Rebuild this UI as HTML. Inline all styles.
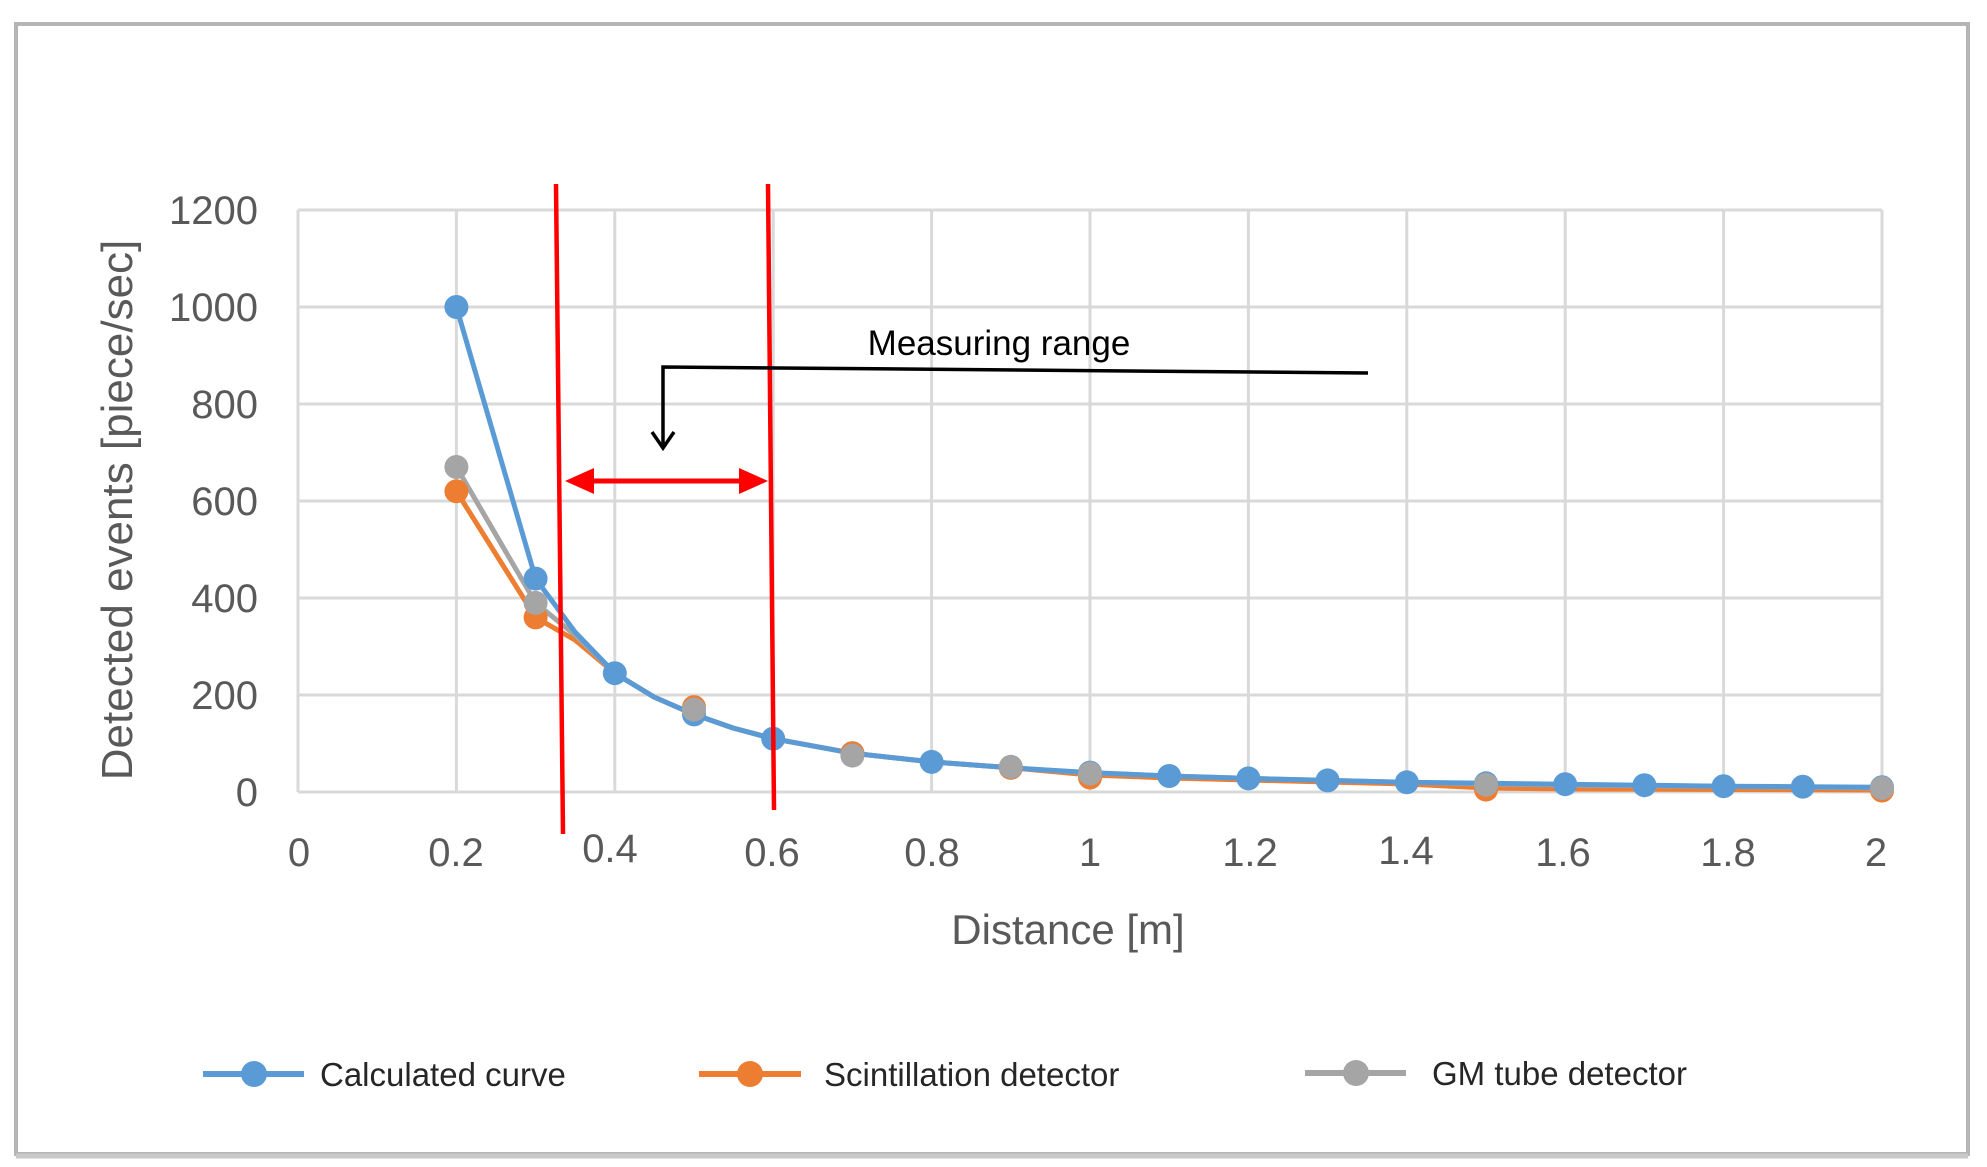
<!DOCTYPE html>
<html><head><meta charset="utf-8"><style>
html,body{margin:0;padding:0;background:#fff;}
svg{display:block;}
text{font-family:"Liberation Sans",sans-serif;}
</style></head><body>
<svg width="1987" height="1167" viewBox="0 0 1987 1167" xmlns="http://www.w3.org/2000/svg">
<rect x="0" y="0" width="1987" height="1167" fill="#fff"/>
<rect x="16" y="24" width="1952" height="1130" fill="#fff" stroke="#b5b5b5" stroke-width="4"/>
<line x1="16" y1="1156" x2="1968" y2="1156" stroke="#c8c8c8" stroke-width="5"/>
<g stroke="#d9d9d9" stroke-width="3" fill="none">
<line x1="298" y1="210" x2="1882" y2="210"/>
<line x1="298" y1="307" x2="1882" y2="307"/>
<line x1="298" y1="404" x2="1882" y2="404"/>
<line x1="298" y1="501" x2="1882" y2="501"/>
<line x1="298" y1="598" x2="1882" y2="598"/>
<line x1="298" y1="695" x2="1882" y2="695"/>
<line x1="298" y1="792" x2="1882" y2="792"/>
<line x1="298" y1="210" x2="298" y2="792"/>
<line x1="456.4" y1="210" x2="456.4" y2="792"/>
<line x1="614.8" y1="210" x2="614.8" y2="792"/>
<line x1="773.2" y1="210" x2="773.2" y2="792"/>
<line x1="931.6" y1="210" x2="931.6" y2="792"/>
<line x1="1090" y1="210" x2="1090" y2="792"/>
<line x1="1248.4" y1="210" x2="1248.4" y2="792"/>
<line x1="1406.8" y1="210" x2="1406.8" y2="792"/>
<line x1="1565.2" y1="210" x2="1565.2" y2="792"/>
<line x1="1723.6" y1="210" x2="1723.6" y2="792"/>
<line x1="1882" y1="210" x2="1882" y2="792"/>
</g>
<g fill="#595959" font-size="40" text-anchor="end">
<text x="258" y="224">1200</text>
<text x="258" y="321">1000</text>
<text x="258" y="418">800</text>
<text x="258" y="515">600</text>
<text x="258" y="612">400</text>
<text x="258" y="709">200</text>
<text x="258" y="806">0</text>
</g>
<g fill="#595959" font-size="40" text-anchor="middle">
<text x="299" y="866">0</text>
<text x="456" y="866">0.2</text>
<text x="610" y="862">0.4</text>
<text x="772" y="866">0.6</text>
<text x="932" y="866">0.8</text>
<text x="1090" y="866">1</text>
<text x="1250" y="866">1.2</text>
<text x="1406" y="864">1.4</text>
<text x="1563" y="866">1.6</text>
<text x="1728" y="866">1.8</text>
<text x="1876" y="866">2</text>
</g>
<text x="1068" y="944" fill="#595959" font-size="42" text-anchor="middle">Distance [m]</text>
<text transform="translate(132,510) rotate(-90)" fill="#595959" font-size="44" text-anchor="middle">Detected events [piece/sec]</text>
<!-- detectors (under) -->
<polyline fill="none" stroke="#ed7d31" stroke-width="5" stroke-linejoin="round" points="456.4,491.3 535.6,617.4 575,640 614.8,673.2 654,697 694,714.4 733,728 773.2,738.7 852.4,753.2 931.6,761.9 1010.8,767.8 1090,775 1169.2,778 1248.4,780 1327.6,782 1406.8,784 1486,788 1565.2,789 1882,790"/>
<polyline fill="none" stroke="#a5a5a5" stroke-width="5" stroke-linejoin="round" points="456.4,467 535.6,602.9 575,635 614.8,673.2 654,697 694,714.4 733,728 773.2,738.7 852.4,753.2 931.6,761.9 1010.8,767.8 1090,773 1169.2,776 1248.4,778.4 1327.6,780.4 1406.8,782.3 1486,784 1565.2,785 1882,788"/>
<!-- calculated -->
<polyline fill="none" stroke="#5b9bd5" stroke-width="5" stroke-linejoin="round" points="456.4,307 535.6,578.6 575,632 614.8,673.2 654,697 694,714.4 733,728 773.2,738.7 852.4,753.2 931.6,761.9 1010.8,767.8 1090,772.6 1169.2,776 1248.4,778.4 1327.6,780.4 1406.8,782.3 1486,783.3 1565.2,784.2 1644.4,785.2 1723.6,786.2 1802.8,786.7 1882,787.2"/>
<g fill="#5b9bd5">
<circle cx="456.4" cy="307" r="12"/><circle cx="535.6" cy="578.6" r="12"/><circle cx="614.8" cy="673.2" r="12"/><circle cx="694" cy="714.4" r="12"/><circle cx="773.2" cy="738.7" r="12"/><circle cx="852.4" cy="753.2" r="12"/><circle cx="931.6" cy="761.9" r="12"/><circle cx="1010.8" cy="767.8" r="12"/><circle cx="1090" cy="772.6" r="12"/><circle cx="1169.2" cy="776" r="12"/><circle cx="1248.4" cy="778.4" r="12"/><circle cx="1327.6" cy="780.4" r="12"/><circle cx="1406.8" cy="782.3" r="12"/><circle cx="1486" cy="783.3" r="12"/><circle cx="1565.2" cy="784.2" r="12"/><circle cx="1644.4" cy="785.2" r="12"/><circle cx="1723.6" cy="786.2" r="12"/><circle cx="1802.8" cy="786.7" r="12"/><circle cx="1882" cy="787.2" r="12"/>
</g>
<g fill="#ed7d31">
<circle cx="456.4" cy="491.3" r="12"/><circle cx="535.6" cy="617.4" r="12"/><circle cx="694" cy="707.1" r="12"/><circle cx="852.4" cy="753.2" r="12"/><circle cx="1010.8" cy="767.8" r="12"/><circle cx="1090" cy="777.5" r="12"/><circle cx="1486" cy="789.6" r="12"/><circle cx="1882" cy="790.5" r="12"/>
</g>
<g fill="#a5a5a5">
<circle cx="456.4" cy="467" r="12"/><circle cx="535.6" cy="602.9" r="12"/><circle cx="694" cy="709.6" r="12"/><circle cx="852.4" cy="755.6" r="12"/><circle cx="1010.8" cy="766.8" r="12"/><circle cx="1090" cy="773.6" r="12"/><circle cx="1486" cy="784.7" r="12"/><circle cx="1882" cy="788.1" r="12"/>
</g>
<!-- red lines -->
<g stroke="#ff0000" stroke-width="4.5" fill="none">
<line x1="556" y1="184" x2="563" y2="834"/>
<line x1="768" y1="184" x2="774" y2="810"/>
<line x1="580" y1="481" x2="752" y2="481" stroke-width="5"/>
</g>
<polygon points="565,481 594,468 594,494" fill="#ff0000"/>
<polygon points="768,481 739,468 739,494" fill="#ff0000"/>
<!-- black arrow -->
<polyline points="1368,373 663,367 663,448" fill="none" stroke="#000" stroke-width="3.5"/>
<polyline points="652,432 663,448 674,432" fill="none" stroke="#000" stroke-width="3.5"/>
<text x="999" y="355" fill="#000" font-size="35" text-anchor="middle">Measuring range</text>
<!-- legend -->
<line x1="203" y1="1074" x2="304" y2="1074" stroke="#5b9bd5" stroke-width="6"/><circle cx="254" cy="1074" r="13" fill="#5b9bd5"/>
<text x="320" y="1086" fill="#262626" font-size="33">Calculated curve</text>
<line x1="699" y1="1074" x2="801" y2="1074" stroke="#ed7d31" stroke-width="6"/><circle cx="750" cy="1074" r="13" fill="#ed7d31"/>
<text x="824" y="1086" fill="#262626" font-size="33">Scintillation detector</text>
<line x1="1305" y1="1073" x2="1406" y2="1073" stroke="#a5a5a5" stroke-width="6"/><circle cx="1356" cy="1073" r="13" fill="#a5a5a5"/>
<text x="1432" y="1085" fill="#262626" font-size="33">GM tube detector</text>
</svg>
</body></html>
